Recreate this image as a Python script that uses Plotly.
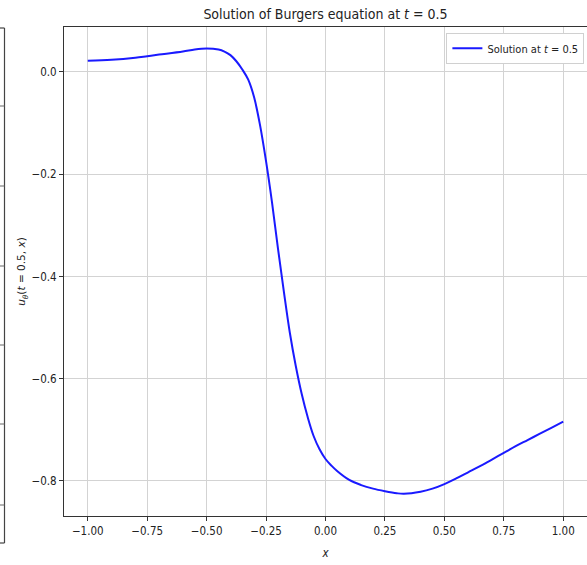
import plotly.graph_objects as go

x_vals = [-1.00, -0.90, -0.80, -0.75, -0.70, -0.60, -0.55, -0.50, -0.45, -0.425,
          -0.40, -0.375, -0.35, -0.325, -0.30, -0.275, -0.25, -0.225, -0.20, -0.175,
          -0.15, -0.125, -0.10, -0.075, -0.05, -0.025, 0.00, 0.025, 0.05, 0.10,
          0.15, 0.20, 0.25, 0.30, 0.33, 0.40, 0.45, 0.50, 0.55, 0.60,
          0.65, 0.70, 0.75, 0.80, 0.85, 0.90, 0.95, 1.00]
u_vals = [0.022, 0.024, 0.028, 0.031, 0.034, 0.040, 0.044, 0.046, 0.044, 0.040,
          0.033, 0.021, 0.005, -0.015, -0.050, -0.105, -0.175, -0.255, -0.345, -0.430,
          -0.510, -0.575, -0.630, -0.675, -0.712, -0.738, -0.757, -0.770, -0.781, -0.798,
          -0.808, -0.815, -0.820, -0.824, -0.825, -0.821, -0.815, -0.806, -0.795, -0.783,
          -0.771, -0.758, -0.745, -0.732, -0.720, -0.708, -0.696, -0.684]

x_ticks = [-1.0, -0.75, -0.5, -0.25, 0.0, 0.25, 0.5, 0.75, 1.0]
x_tick_text = ["\u22121.00", "\u22120.75", "\u22120.50", "\u22120.25", "0.00", "0.25", "0.50", "0.75", "1.00"]
y_ticks = [0.0, -0.2, -0.4, -0.6, -0.8]
y_tick_text = ["0.0", "\u22120.2", "\u22120.4", "\u22120.6", "\u22120.8"]

FONT = "DejaVu Sans Condensed"

fig = go.Figure()
fig.add_trace(go.Scatter(
    x=x_vals, y=u_vals, mode="lines", line=dict(color="#1a1aff", width=2, shape="spline", smoothing=1.0),
    name="Solution at <i>t</i> = 0.5"))

W, H = 587, 565
L, T, B = 64, 27, 516
pw, ph = W - L, B - T

def px(p):
    return (p - L) / pw

def py(p):
    return (B - p) / ph

shapes = [dict(type="line", xref="paper", yref="paper", x0=px(4.5), x1=px(4.5), y0=py(28), y1=py(543),
               line=dict(color="#444", width=1.2)),
          dict(type="line", xref="paper", yref="paper", x0=px(0), x1=px(4.5), y0=py(28), y1=py(28),
               line=dict(color="#444", width=1.2)),
          dict(type="line", xref="paper", yref="paper", x0=px(0), x1=px(4.5), y0=py(543), y1=py(543),
               line=dict(color="#444", width=1.2))]
for tp in [106, 186, 266, 345, 424, 505]:
    shapes.append(dict(type="line", xref="paper", yref="paper", x0=px(0), x1=px(4.5), y0=py(tp), y1=py(tp),
                       line=dict(color="#666", width=1)))

fig.update_layout(
    width=W, height=H,
    margin=dict(l=L, r=0, t=T, b=H - B),
    plot_bgcolor="white", paper_bgcolor="white",
    font=dict(family=FONT, size=11.5, color="#222"),
    title=dict(text="Solution of Burgers equation at <i>t</i> = 0.5", x=(L + pw / 2) / W, xanchor="center",
               y=1 - 14 / H, yanchor="middle", font=dict(family=FONT, size=14, color="#222")),
    showlegend=True,
    legend=dict(x=0.995, y=0.988, xanchor="right", yanchor="top", bgcolor="white", itemwidth=30,
                bordercolor="#d0d0d0", borderwidth=1, font=dict(family=FONT, size=11, color="#222")),
    xaxis=dict(range=[-1.1, 1.1], tickvals=x_ticks, ticktext=x_tick_text, showgrid=True,
               gridcolor="#d3d3d3", gridwidth=1, zeroline=False, showline=True, linecolor="#333",
               linewidth=1.2, mirror=True, ticks="outside", ticklen=4, tickcolor="#333",
               tickfont=dict(family=FONT, size=11.5),
               title=dict(text="<i>x</i>", font=dict(family=FONT, size=11.5), standoff=12)),
    yaxis=dict(range=[-0.8685, 0.088], tickvals=y_ticks, ticktext=y_tick_text, showgrid=True,
               gridcolor="#d3d3d3", gridwidth=1, zeroline=False, showline=True, linecolor="#333",
               linewidth=1.2, mirror=True, ticks="outside", ticklen=4, tickcolor="#333",
               tickfont=dict(family=FONT, size=11.5),
               title=dict(text="<i>u</i><sub><i>\u03b8</i></sub>(<i>t</i> = 0.5, <i>x</i>)",
                          font=dict(family="DejaVu Sans", size=10.5), standoff=3)),
    shapes=shapes,
)

fig.write_html("out.html", config={"displayModeBar": False},
               post_script="document.body.style.margin='0';")
